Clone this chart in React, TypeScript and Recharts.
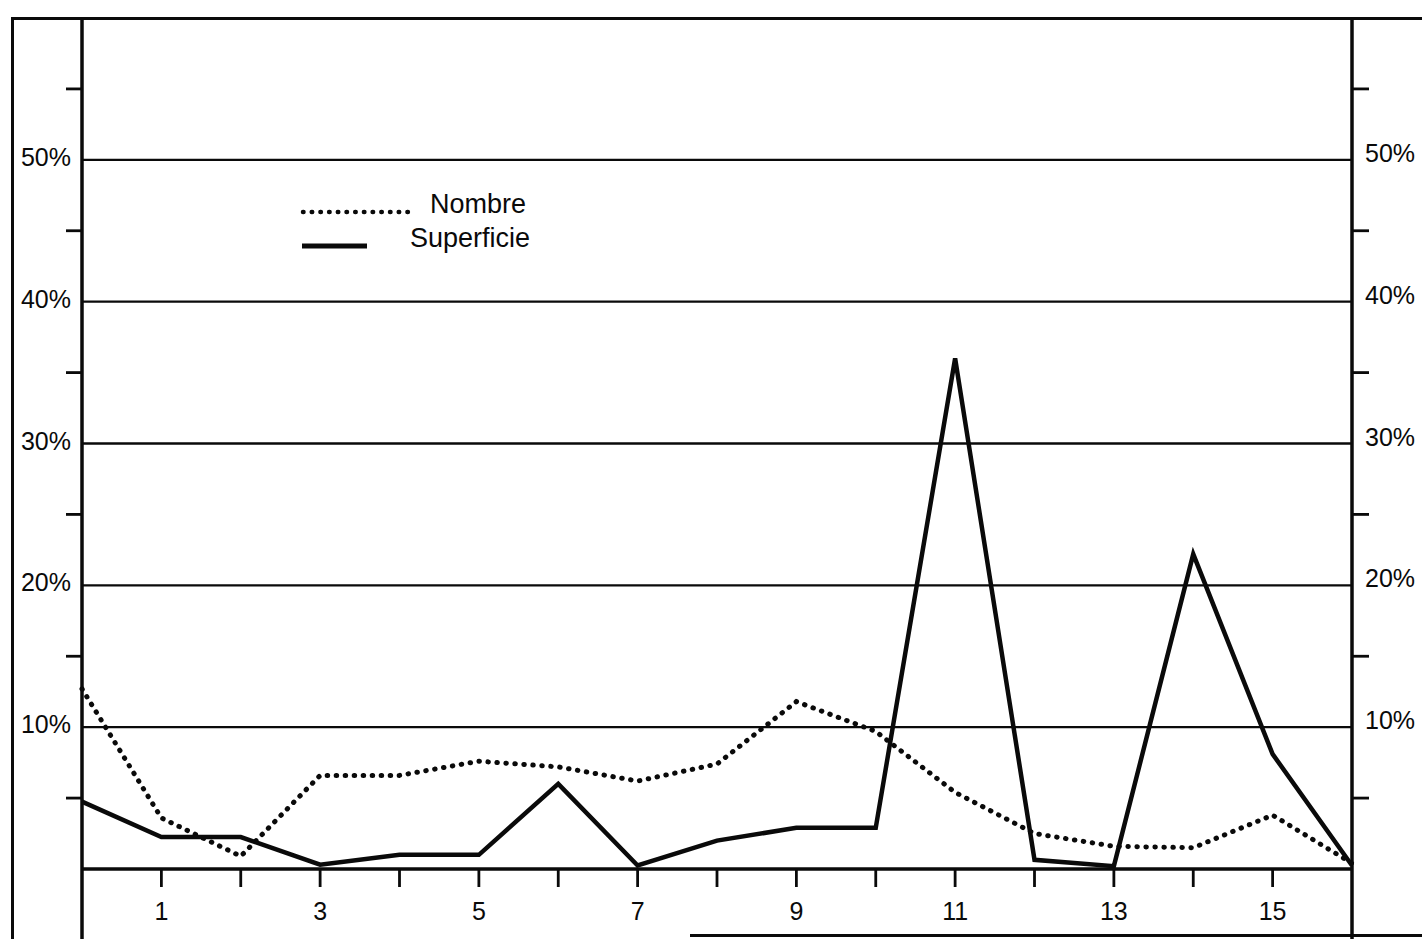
import React from "react";
import { LineChart, Line, XAxis, YAxis, ReferenceLine, Legend } from "recharts";

const xValues = [0, 1, 2, 3, 4, 5, 6, 7, 8, 9, 10, 11, 12, 13, 14, 15, 16];
const nombre = [12.7, 3.6, 0.9, 6.6, 6.6, 7.6, 7.2, 6.2, 7.4, 11.8, 9.7, 5.4, 2.5, 1.6, 1.5, 3.8, 0.4];
const superficie = [4.75, 2.25, 2.25, 0.3, 1.0, 1.0, 6.0, 0.25, 2.0, 2.9, 2.9, 36.0, 0.65, 0.2, 22.2, 8.1, 0.25];

const xTicks = [1, 2, 3, 4, 5, 6, 7, 8, 9, 10, 11, 12, 13, 14, 15];
const xLabelTicks = [1, 3, 5, 7, 9, 11, 13, 15];
const yTicks = [5, 10, 15, 20, 25, 30, 35, 40, 45, 50, 55];
const yLabelTicks = [10, 20, 30, 40, 50];
const gridValues = [10, 20, 30, 40, 50];

const data = xValues.map((x, i) => ({ x, nombre: nombre[i], superficie: superficie[i] }));

const FONT = "'Liberation Sans', Arial, Helvetica, sans-serif";
const INK = "#0a0a0a";

const XTick = (props: any) => {
  const { x, y, payload } = props;
  const v = payload.value;
  return (
    <g>
      <line x1={x} y1={y} x2={x} y2={y + 18} stroke={INK} strokeWidth={2.8} />
      {xLabelTicks.includes(v) && (
        <text x={x} y={y + 51} textAnchor="middle" fontSize={25} fontFamily={FONT} fill={INK}>
          {v}
        </text>
      )}
    </g>
  );
};

const LeftTick = (props: any) => {
  const { x, y, payload } = props;
  const v = payload.value;
  if (yLabelTicks.includes(v)) {
    return (
      <text x={x - 11} y={y + 6} textAnchor="end" fontSize={25} fontFamily={FONT} fill={INK}>
        {v}%
      </text>
    );
  }
  return <line x1={x - 16} y1={y} x2={x} y2={y} stroke={INK} strokeWidth={2.8} />;
};

const RightTick = (props: any) => {
  const { x, y, payload } = props;
  const v = payload.value;
  if (yLabelTicks.includes(v)) {
    return (
      <text x={x + 13} y={y + 2} textAnchor="start" fontSize={25} fontFamily={FONT} fill={INK}>
        {v}%
      </text>
    );
  }
  return <line x1={x} y1={y} x2={x + 17} y2={y} stroke={INK} strokeWidth={2.8} />;
};

const LegendContent = () => (
  <svg width={260} height={80}>
    <line x1={3} y1={32} x2={114} y2={32} stroke={INK} strokeWidth={4.5} strokeDasharray="0.5 8.2" strokeLinecap="round" />
    <text x={130} y={33} fontSize={27} fontFamily={FONT} fill={INK}>Nombre</text>
    <line x1={2} y1={66} x2={67} y2={66} stroke={INK} strokeWidth={5} />
    <text x={110} y={67} fontSize={27} fontFamily={FONT} fill={INK}>Superficie</text>
  </svg>
);

export default function App() {
  return (
    <div style={{ position: "relative", width: 1422, height: 939, overflow: "hidden", background: "#fff" }}>
      <style>{`body{margin:0;background:#fff;}`}</style>
      <LineChart width={1422} height={939} data={data} margin={{ top: 18, right: 0, bottom: 0, left: 0 }}>
        <XAxis
          dataKey="x"
          type="number"
          domain={[0, 16]}
          ticks={xTicks}
          interval={0}
          height={70}
          axisLine={{ stroke: INK, strokeWidth: 3.5 }}
          tickLine={false}
          tickSize={0}
          tickMargin={0}
          tick={(p: any) => <XTick {...p} />}
        />
        <YAxis
          yAxisId="left"
          orientation="left"
          width={82}
          type="number"
          domain={[0, 60]}
          ticks={yTicks}
          interval={0}
          axisLine={false}
          tickLine={false}
          tickSize={0}
          tickMargin={0}
          tick={(p: any) => <LeftTick {...p} />}
        />
        <YAxis
          yAxisId="right"
          orientation="right"
          width={70}
          type="number"
          domain={[0, 60]}
          ticks={yTicks}
          interval={0}
          axisLine={false}
          tickLine={false}
          tickSize={0}
          tickMargin={0}
          tick={(p: any) => <RightTick {...p} />}
        />
        {gridValues.map((g) => (
          <ReferenceLine key={g} yAxisId="left" y={g} stroke={INK} strokeWidth={2.4} />
        ))}
        <ReferenceLine
          yAxisId="left"
          segment={[{ x: 0, y: -6 }, { x: 0, y: 60 }]}
          ifOverflow="visible"
          stroke={INK}
          strokeWidth={3.5}
        />
        <ReferenceLine
          yAxisId="left"
          segment={[{ x: 16, y: -6 }, { x: 16, y: 60 }]}
          ifOverflow="visible"
          stroke={INK}
          strokeWidth={3.5}
        />
        <Line
          yAxisId="left"
          type="linear"
          dataKey="nombre"
          stroke={INK}
          strokeWidth={5}
          strokeDasharray="0.5 8.5"
          strokeLinecap="round"
          dot={false}
          activeDot={false}
          isAnimationActive={false}
        />
        <Line
          yAxisId="right"
          type="linear"
          dataKey="superficie"
          stroke={INK}
          strokeWidth={4.5}
          dot={false}
          activeDot={false}
          isAnimationActive={false}
        />
        <Legend
          layout="vertical"
          align="center"
          verticalAlign="middle"
          content={() => <LegendContent />}
          wrapperStyle={{ position: "absolute", left: 300, top: 180, width: 260, height: 80 }}
        />
      </LineChart>
      <div
        style={{
          position: "absolute",
          left: 11,
          top: 17,
          width: 1411,
          height: 930,
          borderTop: `3.5px solid ${INK}`,
          borderLeft: `3.5px solid ${INK}`,
          boxSizing: "border-box",
          pointerEvents: "none",
        }}
      />
      <div
        style={{
          position: "absolute",
          left: 690,
          top: 934,
          width: 732,
          height: 0,
          borderTop: `3px solid ${INK}`,
          pointerEvents: "none",
        }}
      />
    </div>
  );
}
